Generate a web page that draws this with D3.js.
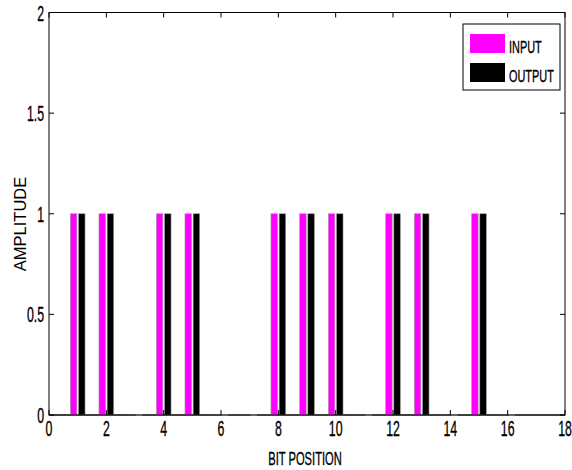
<!DOCTYPE html>
<html>
<head>
<meta charset="utf-8">
<script src="https://cdn.jsdelivr.net/npm/d3@7/dist/d3.min.js"></script>
<style>
  html, body { margin: 0; padding: 0; background: #fff; }
  svg { display: block; }
</style>
</head>
<body>
<svg id="chart" width="572" height="470"></svg>
<script>
// ---- data ----
const bitPositions = [1,2,3,4,5,6,7,8,9,10,11,12,13,14,15,16];
const inputBits   = [1,1,0,1,1,0,0,1,1,1,0,1,1,0,1,0];
const outputBits  = [1,1,0,1,1,0,0,1,1,1,0,1,1,0,1,0];
const seriesNames = ["INPUT", "OUTPUT"];
const seriesColors = ["#ff00ff", "#000000"];
const xTicks = [0,2,4,6,8,10,12,14,16,18];
const yTicks = [0,0.5,1,1.5,2];
const yTickLabels = ["0","0.5","1","1.5","2"];

// ---- layout ----
const svg = d3.select("#chart");
const L = 49, R = 565, T = 12.5, B = 415;
const x = d3.scaleLinear().domain([0, 18]).range([L, R]);
const y = d3.scaleLinear().domain([0, 2]).range([B, T]);
const FONT = "'Liberation Sans', Arial, sans-serif";

function condensedText(g, tx, ty, str, size, anchor, k) {
  return g.append("g").attr("transform", `translate(${tx},${ty}) scale(${k},1)`)
    .append("text")
    .attr("x", 0).attr("y", 0)
    .attr("font-family", FONT)
    .attr("font-size", size)
    .attr("text-anchor", anchor)
    .attr("fill", "#000")
    .attr("stroke", "#000").attr("stroke-width", 0.35)
    .text(str);
}

// ---- bars ----
const groupW = 0.571, barW = 0.229;
const offsets = [-groupW/4, groupW/4];
const series = [inputBits, outputBits];

svg.append("line").attr("x1", x(0)).attr("x2", x(18)).attr("y1", y(0)).attr("y2", y(0))
  .attr("stroke", "#000").attr("stroke-width", 1);

const barsG = svg.append("g");
series.forEach((vals, si) => {
  const data = bitPositions.map((p, i) => ({p, v: vals[i]}));
  barsG.append("g").selectAll("rect")
    .data(data.filter(d => d.v > 0))
    .join("rect")
    .attr("x", d => x(d.p + offsets[si] - barW/2))
    .attr("width", d => x(d.p + offsets[si] + barW/2) - x(d.p + offsets[si] - barW/2))
    .attr("y", d => y(d.v))
    .attr("height", d => y(0) - y(d.v))
    .attr("fill", seriesColors[si])
    .attr("stroke", "#a0a0a0")
    .attr("stroke-width", 0.6);
  barsG.append("g").selectAll("line")
    .data(data.filter(d => d.v === 0))
    .join("line")
    .attr("x1", d => x(d.p + offsets[si] - barW/2))
    .attr("x2", d => x(d.p + offsets[si] + barW/2))
    .attr("y1", y(0)).attr("y2", y(0))
    .attr("stroke", si === 0 ? "#909090" : "#ffffff")
    .attr("stroke-width", 1.2);
});

// ---- frame ----
svg.append("rect").attr("x", L).attr("y", T).attr("width", R - L).attr("height", B - T)
  .attr("fill", "none").attr("stroke", "#000").attr("stroke-width", 1);

const tickLen = 5;
const tg = svg.append("g").attr("stroke", "#000").attr("stroke-width", 1);
xTicks.forEach(v => {
  tg.append("line").attr("x1", x(v)).attr("x2", x(v)).attr("y1", B).attr("y2", B - tickLen);
  tg.append("line").attr("x1", x(v)).attr("x2", x(v)).attr("y1", T).attr("y2", T + tickLen);
});
yTicks.forEach(v => {
  tg.append("line").attr("x1", L).attr("x2", L + tickLen).attr("y1", y(v)).attr("y2", y(v));
  tg.append("line").attr("x1", R).attr("x2", R - tickLen).attr("y1", y(v)).attr("y2", y(v));
});

// ---- tick labels ----
const lab = svg.append("g");
xTicks.forEach(v => condensedText(lab, x(v), 436, String(v), 22, "middle", 0.56));
yTicks.forEach((v, i) => condensedText(lab, 44, y(v) + 8, yTickLabels[i], 22, "end", 0.56));

// ---- axis titles ----
svg.append("text")
  .attr("transform", `translate(26,224) rotate(-90)`)
  .attr("font-family", FONT).attr("font-size", 16.5)
  .attr("text-anchor", "middle").attr("fill", "#000")
  .text("AMPLITUDE");
condensedText(svg, 305, 465, "BIT POSITION", 18, "middle", 0.62);

// ---- legend ----
const lg = svg.append("g");
lg.append("rect").attr("x", 463).attr("y", 24).attr("width", 97).attr("height", 66)
  .attr("fill", "#fff").attr("stroke", "#000").attr("stroke-width", 1);
seriesNames.forEach((name, i) => {
  const yy = 34 + i * 29;
  lg.append("rect").attr("x", 470).attr("y", yy).attr("width", 35).attr("height", 19)
    .attr("fill", seriesColors[i]);
  condensedText(lg, 509, yy + 18.5, name, 16.8, "start", 0.65);
});
</script>
</body>
</html>
